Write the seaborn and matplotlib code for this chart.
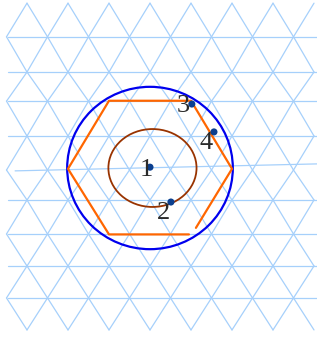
import numpy as np
import pandas as pd
import matplotlib
matplotlib.use("Agg")
import matplotlib.pyplot as plt
from matplotlib.patches import Ellipse
import seaborn as sns

# lattice rows (lattice units, y up)
row_y = [4.02, 3.20, 2.34, 1.63, 0.78, -0.05, -0.78, -1.61, -2.39, -3.17, -3.95]
row_shift = [0.5, 0, 0.5, 0, 0.5, 0, 0.5, 0, 0.5, 0, 0.5]
x_min, x_max = -3.5, 4.0

# hexagon outline (drawn as an open path, a small gap at bottom right)
hex_x = [1.12, 2.0, 1.0, -1.0, -2.0, -1.0, 0.95]
hex_y = [-1.46, -0.02, 1.64, 1.64, -0.02, -1.62, -1.62]

# labelled points
pt_name = ["1", "2", "3", "4"]
pt_x = [0.0, 0.51, 1.02, 1.56]
pt_y = [0.02, -0.83, 1.56, 0.88]
lbl_x = [-0.1, 0.32, 0.80, 1.37]
lbl_y = [-0.2, -1.24, 1.37, 0.46]

sns.set_theme(style="white")

# build lattice segments
segs = []
sid = 0
for i in range(len(row_y) - 1):
    nodes = np.arange(x_min + row_shift[i] - 1, x_max + 1, 1.0)
    nodes = nodes[(nodes >= x_min - 1e-9) & (nodes <= x_max + 1e-9)]
    for nx in nodes:
        for d in (-0.5, 0.5):
            tx = nx + d
            if x_min - 1e-9 <= tx <= x_max + 1e-9:
                segs.append((sid, nx, row_y[i]))
                segs.append((sid, tx, row_y[i + 1]))
                sid += 1
for i in range(1, len(row_y) - 1):
    if i == 5:
        segs.append((sid, -3.29, -0.07))
        segs.append((sid, 4.07, 0.10))
    else:
        segs.append((sid, -3.46, row_y[i]))
        segs.append((sid, 4.07, row_y[i]))
    sid += 1
lat = pd.DataFrame(segs, columns=["seg", "x", "y"])

fig = plt.figure(figsize=(3.17, 3.42), dpi=100)
ax = fig.add_axes([0, 0, 1, 1])

sns.lineplot(data=lat, x="x", y="y", units="seg", estimator=None, sort=False,
             color="#a6d0fb", lw=0.9, ax=ax)

ax.add_patch(Ellipse((0.0, 0.0), 4.04, 3.96, fill=False, ec="#0000ee", lw=1.6, zorder=3))
ax.add_patch(Ellipse((0.06, 0.0), 2.15, 1.90, fill=False, ec="#993300", lw=1.3, zorder=3))

hexdf = pd.DataFrame({"x": hex_x, "y": hex_y})
sns.lineplot(data=hexdf, x="x", y="y", sort=False, estimator=None,
             color="#ff6600", lw=1.6, ax=ax, zorder=4)

pts = pd.DataFrame({"x": pt_x, "y": pt_y, "name": pt_name})
sns.scatterplot(data=pts, x="x", y="y", color="#0b3f8f", s=26,
                edgecolor="none", ax=ax, zorder=5)
for n, tx, ty in zip(pt_name, lbl_x, lbl_y):
    ax.text(tx, ty, n, ha="center", va="baseline", fontsize=19,
            family="Liberation Serif", color="#2b2b2b", zorder=6)

ax.set_xlim(-150 / 41, 167 / 41)
ax.set_ylim(-174 / 41, 168 / 41)
ax.set_axis_off()
fig.savefig("out.png", dpi=100)
